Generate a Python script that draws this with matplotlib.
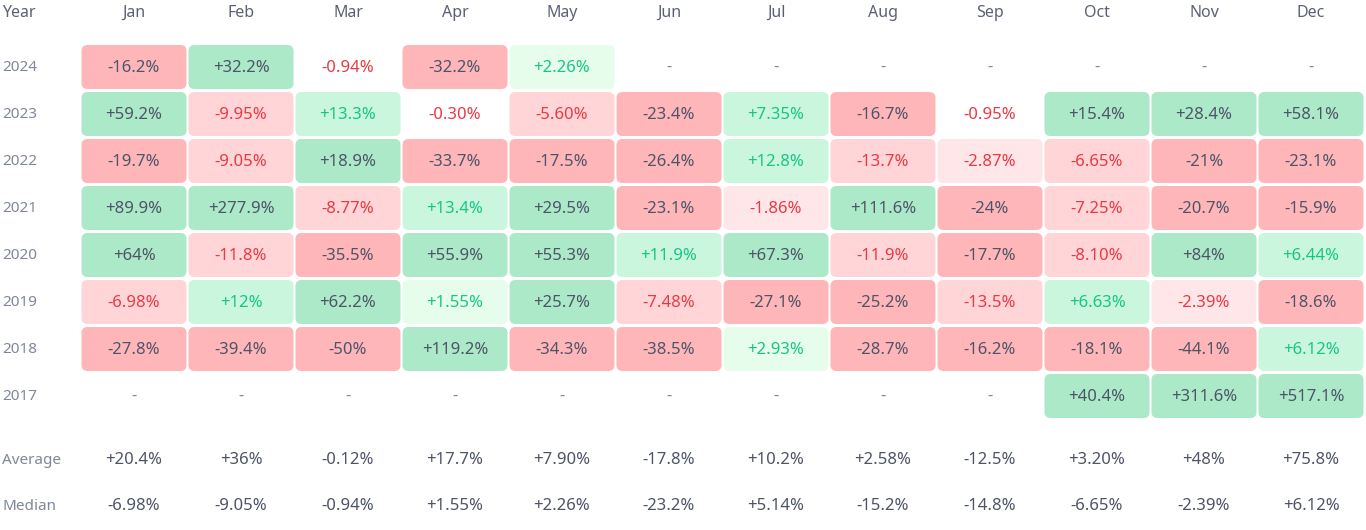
import matplotlib
matplotlib.use("Agg")
import matplotlib.pyplot as plt
from matplotlib.patches import FancyBboxPatch

plt.rcParams['font.family'] = ['Noto Sans', 'DejaVu Sans']

months = ['Jan', 'Feb', 'Mar', 'Apr', 'May', 'Jun',
          'Jul', 'Aug', 'Sep', 'Oct', 'Nov', 'Dec']
years = ['2024', '2023', '2022', '2021', '2020', '2019', '2018', '2017']

r2024 = [-16.2, 32.2, -0.94, -32.2, 2.26, None, None, None, None, None, None, None]
r2023 = [59.2, -9.95, 13.3, -0.30, -5.60, -23.4, 7.35, -16.7, -0.95, 15.4, 28.4, 58.1]
r2022 = [-19.7, -9.05, 18.9, -33.7, -17.5, -26.4, 12.8, -13.7, -2.87, -6.65, -21, -23.1]
r2021 = [89.9, 277.9, -8.77, 13.4, 29.5, -23.1, -1.86, 111.6, -24, -7.25, -20.7, -15.9]
r2020 = [64, -11.8, -35.5, 55.9, 55.3, 11.9, 67.3, -11.9, -17.7, -8.10, 84, 6.44]
r2019 = [-6.98, 12, 62.2, 1.55, 25.7, -7.48, -27.1, -25.2, -13.5, 6.63, -2.39, -18.6]
r2018 = [-27.8, -39.4, -50, 119.2, -34.3, -38.5, 2.93, -28.7, -16.2, -18.1, -44.1, 6.12]
r2017 = [None, None, None, None, None, None, None, None, None, 40.4, 311.6, 517.1]
rows = [r2024, r2023, r2022, r2021, r2020, r2019, r2018, r2017]

average = [20.4, 36, -0.12, 17.7, 7.90, -17.8, 10.2, 2.58, -12.5, 3.20, 48, 75.8]
median = [-6.98, -9.05, -0.94, 1.55, 2.26, -23.2, 5.14, -15.2, -14.8, -6.65, -2.39, 6.12]

DARK = '#4d5468'
GREY = '#7f8799'
HEAD = '#5b6075'
GREEN_TXT = '#16c784'
RED_TXT = '#ea3943'


def fmt(v):
    if abs(v) >= 10:
        s = f"{v:+.1f}"
        if s.endswith('.0'):
            s = s[:-2]
    else:
        s = f"{v:+.2f}"
    return s + '%'


def cell_style(v):
    a = abs(v)
    if v >= 0:
        if a >= 15:
            return '#ace9c8', DARK
        if a >= 5:
            return '#caf6dd', GREEN_TXT
        if a >= 1:
            return '#e7fdeb', GREEN_TXT
        return None, GREEN_TXT
    if a >= 15:
        return '#ffb6b9', DARK
    if a >= 5:
        return '#ffd5d7', RED_TXT
    if a >= 1:
        return '#ffe6e8', RED_TXT
    return None, RED_TXT


# pixel layout: column i centred at 134 + 107*i, row k centred at 67 + 47*k
col_px, row_px = 107.0, 47.0
fig = plt.figure(figsize=(13.66, 5.30), dpi=100)
ax = fig.add_axes([0, 0, 1, 1])
ax.set_xlim(-134 / col_px, (1366 - 134) / col_px)
ax.set_ylim((530 - 67) / row_px, -67 / row_px)
ax.axis('off')

x_label = (2 - 134) / col_px
fs = 12
fs_lab = 11
cw, ch = 105 / col_px, 44 / row_px
rad = 6 / col_px

y_head = (13 - 67) / row_px
ax.text(x_label, y_head, 'Year', ha='left', va='center', fontsize=11.5, color=HEAD)
for i, m in enumerate(months):
    ax.text(i, y_head, m, ha='center', va='center', fontsize=11.5, color=HEAD)

for k, (yr, vals) in enumerate(zip(years, rows)):
    ax.text(x_label, k + 0.02, yr, ha='left', va='center', fontsize=fs_lab, color=GREY)
    for i, v in enumerate(vals):
        if v is None:
            ax.text(i, k, '-', ha='center', va='center', fontsize=fs, color=GREY)
            continue
        bg, tc = cell_style(v)
        if bg is not None:
            box = FancyBboxPatch((i - cw / 2, k - ch / 2), cw, ch,
                                 boxstyle=f"round,pad=0,rounding_size={rad}",
                                 mutation_aspect=col_px / row_px,
                                 facecolor=bg, edgecolor='none')
            ax.add_patch(box)
        ax.text(i, k + 0.02, fmt(v), ha='center', va='center', fontsize=fs, color=tc)

y_avg = (460 - 67) / row_px
y_med = (506 - 67) / row_px
ax.text(x_label, y_avg, 'Average', ha='left', va='center', fontsize=fs_lab, color=GREY)
ax.text(x_label, y_med, 'Median', ha='left', va='center', fontsize=fs_lab, color=GREY)
for i in range(12):
    ax.text(i, y_avg, fmt(average[i]), ha='center', va='center', fontsize=fs, color=DARK)
    ax.text(i, y_med, fmt(median[i]), ha='center', va='center', fontsize=fs, color=DARK)

fig.savefig('out.png', dpi=100)
